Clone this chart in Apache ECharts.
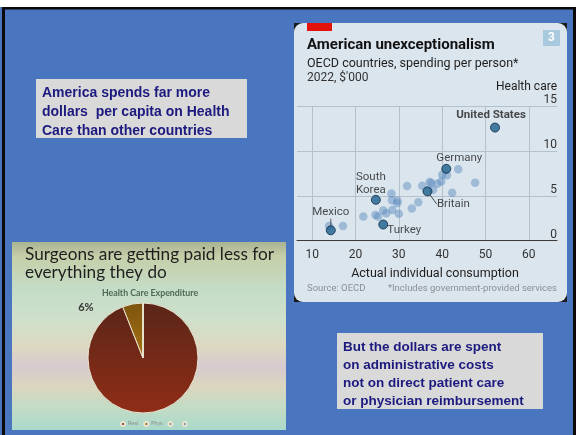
<!DOCTYPE html>
<html><head><meta charset="utf-8">
<script src="https://cdn.jsdelivr.net/npm/echarts@6/dist/echarts.min.js"></script>
<style>html,body{margin:0;padding:0;background:#4a75bf}#c{width:576px;height:435px}</style>
</head><body><div id="c"></div>
<script>
// Scatter: OECD countries, 2022, $'000 per person
const otherX = [13.9,17.1,21.8,24.6,25.2,26.4,27.1,28.3,28.5,28.4,29.7,29.6,30.0,31.9,33.0,34.5,35.4,37.1,37.5,37.9,38.9,39.8,40.0,41.1,42.3,43.7,47.6];
const otherY = [1.64,1.64,2.69,2.87,2.69,3.36,3.06,5.26,3.43,4.51,4.44,4.18,2.99,6.08,3.58,4.29,6.12,6.53,6.42,5.67,6.34,6.60,7.35,7.28,5.34,7.95,6.46];
const highlightNames = ['United States','Germany','Britain','South Korea','Turkey','Mexico'];
const highlightX = [52.2,40.95,36.6,24.7,26.4,14.3];
const highlightY = [12.6,8.0,5.5,4.55,1.8,1.16];
const xTicks = [10,20,30,40,50,60];
const yTicks = [0,5,10,15];
// Pie: health care expenditure
const pieNames = ['Rest','Phys',' ','  '];
const pieValues = [94,6,0,0];

// label styling (not data)
const labelText = {'South Korea':'South\nKorea'};
const labelShift = {
  'United States':[-4,-12], 'Germany':[13,-10.5], 'Britain':[26,13],
  'South Korea':[-5,-16], 'Turkey':[21,6], 'Mexico':[0,-18]
};
const withLeader = {'Britain':true,'Mexico':true};

const ECO = 'Roboto, "Open Sans", sans-serif';
const chart = echarts.init(document.getElementById('c'), null, {renderer:'canvas'});

const pieColors = [
  new echarts.graphic.LinearGradient(0,0,0,1,[{offset:0,color:'#5a2618'},{offset:1,color:'#902d17'}]),
  new echarts.graphic.LinearGradient(0,0,0,1,[{offset:0,color:'#7c5410'},{offset:1,color:'#a87212'}]),
  '#8a8a8a','#6a8ab0'
];

const option = {
  backgroundColor:'#4a75bf',
  animation:false,
  graphic:[
    {type:'rect', z:-20, shape:{x:0,y:0,width:576,height:7}, style:{fill:'#ffffff'}},
    {type:'rect', z:-20, shape:{x:2,y:7,width:574,height:2.5}, style:{fill:'#0a0a0a'}},
    {type:'rect', z:-20, shape:{x:2,y:7,width:3,height:428}, style:{fill:'#0a0a0a'}},
    {type:'rect', z:-20, shape:{x:573,y:7,width:3,height:428}, style:{fill:'#0a0a0a'}},
    // economist panel
    {type:'rect', z:-19, shape:{x:294,y:23,width:273,height:279}, style:{fill:'#1a1a1a'}},
    {type:'rect', z:-18, shape:{x:294,y:23,width:273,height:279,r:9}, style:{fill:'#dbe5ed'}},
    {type:'rect', z:-17, shape:{x:307,y:23,width:25,height:8}, style:{fill:'#e3120b'}},
    {type:'rect', z:-17, shape:{x:543,y:30,width:17,height:16}, style:{fill:'#a9c9de'}},
    // photo panel
    {type:'rect', z:-18, shape:{x:12,y:242,width:274,height:188},
      style:{fill:new echarts.graphic.LinearGradient(0,0,0,1,[
        {offset:0,color:'#aab493'},{offset:0.08,color:'#c6cfa9'},{offset:0.25,color:'#c4dcc6'},
        {offset:0.42,color:'#cfe0cb'},{offset:0.55,color:'#ddd9c0'},{offset:0.66,color:'#d7cad0'},
        {offset:0.77,color:'#dbd6be'},{offset:0.88,color:'#c3dcc5'},{offset:1,color:'#aad9cb'}])}},
    // text boxes
    {type:'rect', z:-18, shape:{x:36,y:79,width:211,height:59}, style:{fill:'#d9d9d9'}},
    {type:'rect', z:-18, shape:{x:337,y:333,width:206,height:76}, style:{fill:'#d9d9d9'}},
    {type:'text', z:5, style:{x:551.5,y:38,text:'3',fill:'#ffffff',font:'bold 12px '+ECO,align:'center',verticalAlign:'middle'}}
  ],
  title:[
    {text:'America spends far more\ndollars  per capita on Health\nCare than other countries', left:37, top:79,
      textStyle:{fontFamily:'"Liberation Sans", Arial, sans-serif', fontWeight:'bold', fontSize:14, lineHeight:19, color:'#1c1a7e'}},
    {text:'But the dollars are spent\non administrative costs\nnot on direct patient care\nor physician reimbursement', left:338, top:333,
      textStyle:{fontFamily:'"Liberation Sans", Arial, sans-serif', fontWeight:'bold', fontSize:13.5, lineHeight:18, color:'#1c1a7e'}},
    {text:'American unexceptionalism', left:302, top:33,
      textStyle:{fontFamily:ECO, fontWeight:'bold', fontSize:15, color:'#121212'}},
    {text:'OECD countries, spending per person*', left:302, top:52,
      textStyle:{fontFamily:ECO, fontWeight:'normal', fontSize:12.5, color:'#1e1e1e'},
      subtext:"2022, $'000", itemGap:2, subtextStyle:{fontFamily:ECO, fontSize:12, color:'#333'}},
    {text:'Health care', right:14, top:76,
      textStyle:{fontFamily:ECO, fontWeight:'normal', fontSize:12, color:'#1e1e1e'}},
    {text:'Source: OECD', left:302, top:279,
      textStyle:{fontFamily:ECO, fontWeight:'normal', fontSize:9.5, color:'#8a8f95'}},
    {text:'*Includes government-provided services', right:14, top:279,
      textStyle:{fontFamily:ECO, fontWeight:'normal', fontSize:9.5, color:'#8a8f95'}},
    {text:'Surgeons are getting paid less for\neverything they do', left:20, top:240,
      textStyle:{fontFamily:'Lato, "Noto Sans", sans-serif', fontWeight:'normal', fontSize:17.2, lineHeight:18.5, color:'#1e1e1e'}},
    {text:'Health Care Expenditure', left:145, textAlign:'center', top:284,
      textStyle:{fontFamily:'Lato, sans-serif', fontWeight:'bold', fontSize:8.8, color:'#4c6a55'}}
  ],
  legend:{data:pieNames, left:115, top:416, itemWidth:4, itemHeight:4, itemGap:5, icon:'circle',
    textStyle:{fontSize:5, color:'#8a8a8a', padding:[0,0,0,-2]}},
  grid:{left:297, top:106, width:260, height:134.7, containLabel:false},
  xAxis:{type:'value', min:6.5, max:66.5,
    axisLine:{show:true, onZero:false, lineStyle:{color:'#3a3a3a', width:1.2}},
    axisTick:{show:false, customValues:xTicks},
    axisLabel:{customValues:xTicks, margin:8, fontFamily:ECO, fontSize:12, color:'#333'},
    splitLine:{show:true, lineStyle:{color:'#b3c1cd', width:1}},
    name:'Actual individual consumption', nameLocation:'middle', nameGap:27,
    nameTextStyle:{fontFamily:ECO, fontSize:12.5, color:'#1e1e1e', padding:[0,0,0,16]}},
  yAxis:{type:'value', position:'right', min:0, max:15, interval:5,
    axisLine:{show:false}, axisTick:{show:false},
    axisLabel:{inside:true, margin:0, verticalAlign:'bottom', padding:0, lineHeight:12, fontFamily:ECO, fontSize:12, color:'#333'},
    splitLine:{show:true, lineStyle:{color:'#b3c1cd', width:1}}},
  series:[
    {type:'scatter', name:'others', symbolSize:8.5, z:3,
      data: otherX.map((x,i)=>[x, otherY[i]]),
      itemStyle:{color:'rgba(92,140,190,0.6)'}},
    {type:'scatter', name:'highlight', symbolSize:9, z:4,
      data: highlightNames.map((n,i)=>({name:n, value:[highlightX[i], highlightY[i]],
        label:{fontWeight: n==='United States'?'bold':'normal'},
        labelLine:{show: !!withLeader[n]}})),
      itemStyle:{color:'#1d5f8c', borderColor:'#0b2c45', borderWidth:1},
      label:{show:true, position:'inside', align:'center', verticalAlign:'middle',
        formatter:p=>labelText[p.name]||p.name, fontFamily:ECO, fontSize:11.5, lineHeight:13, color:'#1e1e1e'},
      labelLine:{show:false, smooth:0.4, lineStyle:{color:'#333', width:0.9}},
      labelLayout:function(p){
        const n = highlightNames[p.dataIndex];
        const s = labelShift[n];
        return {x: p.rect.x + p.rect.width/2 + s[0], y: p.rect.y + p.rect.height/2 + s[1], align:'center', verticalAlign:'middle'};
      }},
    {type:'pie', name:'Health Care Expenditure', center:[143,358], radius:55, startAngle:90, clockwise:true,
      data: pieNames.map((n,i)=>({name:n, value:pieValues[i], itemStyle:{color:pieColors[i]},
        label:{show: n==='Phys'}})),
      itemStyle:{borderColor:'#e8e4d0', borderWidth:1},
      label:{position:'outside', formatter:'{d}%', fontFamily:'Lato, sans-serif', fontWeight:'bold', fontSize:11, color:'#333'},
      labelLine:{show:false, length:6, length2:4},
      labelLayout:function(p){ return {dx:-29, dy:9}; },
      emphasis:{disabled:true}}
  ]
};
chart.setOption(option);
</script></body></html>
